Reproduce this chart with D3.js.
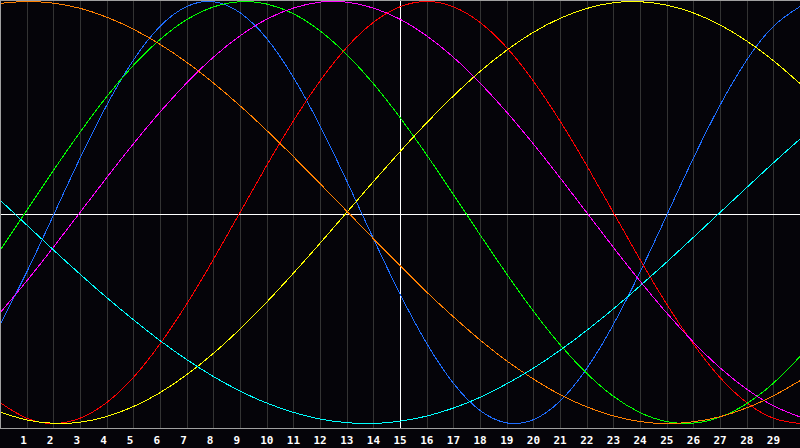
<!DOCTYPE html>
<html>
<head>
<meta charset="utf-8">
<style>
  html, body { margin: 0; padding: 0; background: #050409; overflow: hidden; }
  svg { display: block; }
  .grid line { stroke: #333333; stroke-width: 1px; shape-rendering: crispEdges; }
  .curve { fill: none; stroke-width: 1px; shape-rendering: crispEdges; }
  .lbl { fill: #ffffff; font-family: "DejaVu Sans Mono", monospace; font-weight: bold; font-size: 11px; }
</style>
<script src="https://d3js.org/d3.v7.min.js"></script>
</head>
<body>
<script>
// days from left edge of chart (one grid column per day)
var days = [0,1,2,3,4,5,6,7,8,9,10,11,12,13,14,15,16,17,18,19,20,21,22,23,24,25,26,27,28,29,30];
var dayLabels = [1,2,3,4,5,6,7,8,9,10,11,12,13,14,15,16,17,18,19,20,21,22,23,24,25,26,27,28,29];
var centreDay = 15;

// values, -1 .. 1
var blue23 = [-0.531,-0.283,-0.014,0.257,0.508,0.722,0.882,0.976,0.999,0.947,0.825,0.641,0.411,0.150,-0.123,-0.386,-0.620,-0.809,-0.938,-0.997,-0.982,-0.894,-0.740,-0.531,-0.283,-0.014,0.257,0.508,0.722,0.882,0.976];
var red28 = [-0.901,-0.975,-1,-0.975,-0.901,-0.782,-0.623,-0.434,-0.223,0,0.223,0.434,0.623,0.782,0.901,0.975,1,0.975,0.901,0.782,0.623,0.434,0.223,0,-0.223,-0.434,-0.623,-0.782,-0.901,-0.975,-1];
var green33 = [-0.180,0.010,0.199,0.380,0.549,0.697,0.820,0.914,0.974,0.999,0.988,0.942,0.861,0.749,0.611,0.450,0.273,0.086,-0.105,-0.291,-0.467,-0.626,-0.762,-0.871,-0.948,-0.991,-0.998,-0.970,-0.906,-0.809,-0.683];
var magenta38 = [-0.476,-0.325,-0.165,0,0.165,0.325,0.476,0.614,0.736,0.837,0.916,0.969,0.997,0.997,0.969,0.916,0.837,0.736,0.614,0.476,0.325,0.165,0,-0.165,-0.325,-0.476,-0.614,-0.736,-0.837,-0.916,-0.969];
var yellow43 = [-0.946,-0.983,-0.999,-0.994,-0.967,-0.920,-0.854,-0.769,-0.668,-0.552,-0.425,-0.288,-0.146,0,0.146,0.288,0.425,0.552,0.668,0.769,0.854,0.920,0.967,0.994,0.999,0.983,0.946,0.889,0.813,0.720,0.611];
var orange48 = [0.991,1.000,0.992,0.968,0.926,0.869,0.797,0.712,0.614,0.506,0.389,0.265,0.137,0.007,-0.124,-0.252,-0.377,-0.494,-0.604,-0.703,-0.789,-0.863,-0.921,-0.964,-0.991,-1.000,-0.992,-0.968,-0.926,-0.869,-0.797];
var cyan53 = [0.059,-0.059,-0.177,-0.292,-0.403,-0.508,-0.607,-0.697,-0.777,-0.846,-0.903,-0.947,-0.979,-0.996,-1.000,-0.989,-0.965,-0.927,-0.876,-0.812,-0.738,-0.653,-0.559,-0.457,-0.348,-0.235,-0.118,0,0.118,0.235,0.348];

var seriesList = [blue23, red28, green33, magenta38, yellow43, orange48, cyan53];
var seriesColors = ["#1e6eff", "#ff0000", "#00ff00", "#ff00ff", "#ffff00", "#ff8000", "#00ffff"];

var width = 800, height = 448, plotBottom = 428;

var x = d3.scaleLinear().domain([0, 30]).range([0, width]);
var y = d3.scaleLinear().domain([-1, 1]).range([423.5, 1.5]);

var svg = d3.select("body").append("svg")
    .attr("width", width)
    .attr("height", height);

svg.append("rect")
    .attr("width", width)
    .attr("height", height)
    .attr("fill", "#050409");

// day grid
svg.append("g")
    .attr("class", "grid")
  .selectAll("line")
  .data(dayLabels)
  .enter()
  .append("line")
    .attr("x1", function(d) { return Math.round(x(d)) + 0.5; })
    .attr("x2", function(d) { return Math.round(x(d)) + 0.5; })
    .attr("y1", 0)
    .attr("y2", plotBottom);

// crosshair
svg.append("line")
    .attr("x1", 0).attr("x2", width)
    .attr("y1", Math.round(y(0)) + 1.5).attr("y2", Math.round(y(0)) + 1.5)
    .attr("stroke", "#ffffff")
    .attr("shape-rendering", "crispEdges");
svg.append("line")
    .attr("x1", x(centreDay) + 0.5).attr("x2", x(centreDay) + 0.5)
    .attr("y1", 0).attr("y2", plotBottom)
    .attr("stroke", "#ffffff")
    .attr("shape-rendering", "crispEdges");

var line = d3.line()
    .x(function(d, i) { return x(days[i]); })
    .y(function(d) { return y(d); })
    .curve(d3.curveNatural);

svg.append("g")
  .selectAll("path")
  .data(seriesList)
  .enter()
  .append("path")
    .attr("class", "curve")
    .attr("d", line)
    .attr("stroke", function(d, i) { return seriesColors[i]; });

// frame: top, left, bottom
svg.append("path")
    .attr("d", "M0.5," + (plotBottom + 0.5) + "V0.5H" + width)
    .attr("fill", "none")
    .attr("stroke", "#a0a0a0")
    .attr("shape-rendering", "crispEdges");
svg.append("line")
    .attr("x1", 0).attr("x2", width)
    .attr("y1", plotBottom + 0.5).attr("y2", plotBottom + 0.5)
    .attr("stroke", "#a0a0a0")
    .attr("shape-rendering", "crispEdges");

// day labels
svg.append("g")
  .selectAll("text")
  .data(dayLabels)
  .enter()
  .append("text")
    .attr("class", "lbl")
    .attr("x", function(d) { return x(d) - 6.5; })
    .attr("y", 443.5)
    .text(function(d) { return d; });
</script>
</body>
</html>
